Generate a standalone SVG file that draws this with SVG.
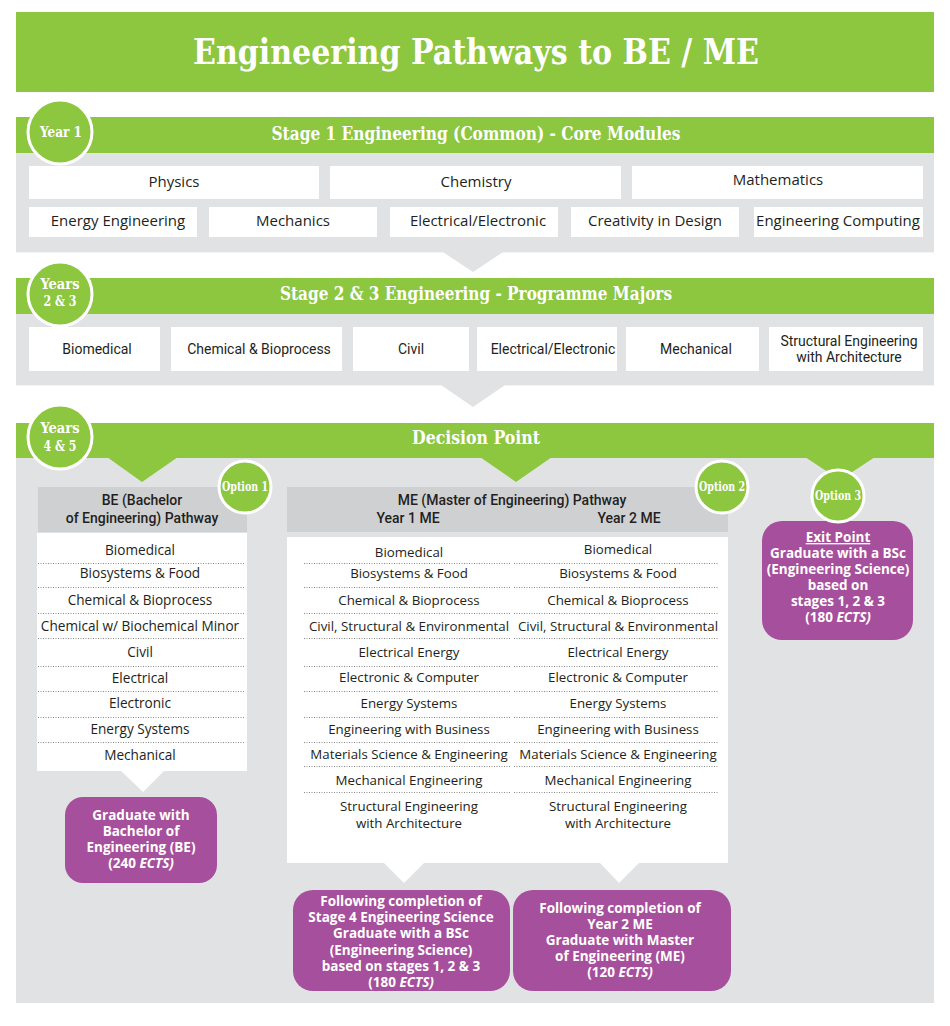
<svg xmlns="http://www.w3.org/2000/svg" width="950" height="1026" viewBox="0 0 950 1026">
<defs>
<style>
.bg{fill:#ffffff}
.green{fill:#8dc63f}
.panel{fill:#e1e2e3}
.box{fill:#ffffff}
.hdr{fill:#cfd0d2}
.purple{fill:#a64f9c}
.circ{fill:#8dc63f;stroke:#ffffff;stroke-width:3}
.slab{font-family:"DejaVu Serif Condensed","DejaVu Serif",serif;font-stretch:condensed;font-weight:bold;fill:#ffffff}
.os{font-family:"Open Sans","Liberation Sans",sans-serif;fill:#231f20;text-anchor:middle}
.rb{font-family:Roboto,"Liberation Sans",sans-serif;fill:#231f20;text-anchor:middle}
.pt{font-family:"Open Sans","Liberation Sans",sans-serif;font-weight:bold;fill:#ffffff;text-anchor:middle;font-size:13.5px}
.dot{stroke:#8a8a8a;stroke-width:1;stroke-dasharray:1 1.5;fill:none}
.mid{text-anchor:middle}
</style>
</defs>
<rect class="bg" x="0" y="0" width="950" height="1026"/>

<g id="title">
<rect class="green" x="16" y="12" width="918" height="80"/>
<text class="slab mid" x="476" y="64" font-size="36" textLength="566" lengthAdjust="spacingAndGlyphs">Engineering Pathways to BE / ME</text>
</g>

<g id="stage1">
<rect class="panel" x="16" y="153" width="918" height="99"/>
<line x1="16" y1="252.5" x2="934" y2="252.5" stroke="#f4f4f4" stroke-width="1"/>
<polygon class="panel" points="443,252 503,252 473,272"/>
<rect class="green" x="16" y="117" width="918" height="36"/>
<text class="slab mid" x="476" y="140" font-size="18" textLength="409" lengthAdjust="spacingAndGlyphs">Stage 1 Engineering (Common) - Core Modules</text>
<circle class="circ" cx="60" cy="132" r="32"/>
<text class="slab mid" x="61" y="137" font-size="14" textLength="42" lengthAdjust="spacingAndGlyphs">Year 1</text>
</g>

<g id="stage1-modules">
<rect class="box" x="29" y="166" width="290" height="33"/>
<text class="os" x="174" y="187" font-size="15">Physics</text>
<rect class="box" x="330" y="166" width="291" height="33"/>
<text class="os" x="476" y="187" font-size="15">Chemistry</text>
<rect class="box" x="632" y="166" width="291" height="33"/>
<text class="os" x="778" y="185" font-size="15">Mathematics</text>
<rect class="box" x="29" y="207" width="168" height="30"/>
<text class="os" x="118" y="226" font-size="15">Energy Engineering</text>
<rect class="box" x="209" y="207" width="168" height="30"/>
<text class="os" x="293" y="226" font-size="15">Mechanics</text>
<rect class="box" x="390" y="207" width="168" height="30"/>
<text class="os" x="478" y="226" font-size="15">Electrical/Electronic</text>
<rect class="box" x="571" y="207" width="168" height="30"/>
<text class="os" x="655" y="226" font-size="15">Creativity in Design</text>
<rect class="box" x="754" y="207" width="169" height="30"/>
<text class="os" x="838" y="226" font-size="15">Engineering Computing</text>
</g>

<g id="stage23">
<rect class="panel" x="16" y="314" width="918" height="71"/>
<line x1="16" y1="385.5" x2="934" y2="385.5" stroke="#f4f4f4" stroke-width="1"/>
<polygon class="panel" points="441,385 505,385 473,407"/>
<rect class="green" x="16" y="278" width="918" height="36"/>
<text class="slab mid" x="476" y="300" font-size="18" textLength="392" lengthAdjust="spacingAndGlyphs">Stage 2 &amp; 3 Engineering - Programme Majors</text>
<circle class="circ" cx="60" cy="294" r="32"/>
<text class="slab mid" x="60" y="289" font-size="14" textLength="39" lengthAdjust="spacingAndGlyphs">Years</text>
<text class="slab mid" x="60" y="306" font-size="14" textLength="33" lengthAdjust="spacingAndGlyphs">2 &amp; 3</text>
</g>

<g id="stage23-majors">
<rect class="box" x="29" y="327" width="131" height="44"/>
<text class="rb" x="97" y="354" font-size="14">Biomedical</text>
<rect class="box" x="171" y="327" width="171" height="44"/>
<text class="rb" x="259" y="354" font-size="14">Chemical &amp; Bioprocess</text>
<rect class="box" x="353" y="327" width="116" height="44"/>
<text class="rb" x="411" y="354" font-size="14">Civil</text>
<rect class="box" x="477" y="327" width="140" height="44"/>
<text class="rb" x="553" y="354" font-size="14">Electrical/Electronic</text>
<rect class="box" x="626" y="327" width="133" height="44"/>
<text class="rb" x="696" y="354" font-size="14">Mechanical</text>
<rect class="box" x="769" y="327" width="154" height="44"/>
<text class="rb" x="849" y="346" font-size="14">Structural Engineering</text>
<text class="rb" x="849" y="362" font-size="14">with Architecture</text>
</g>

<g id="decision">
<rect class="panel" x="16" y="458" width="918" height="545"/>
<rect class="green" x="16" y="423" width="918" height="35"/>
<polygon class="green" points="107,457 178,457 142,482"/>
<polygon class="green" points="480,457 552,457 516,482"/>
<polygon class="green" points="805,457 875,457 840,480"/>
<text class="slab mid" x="476" y="444" font-size="18" textLength="128" lengthAdjust="spacingAndGlyphs">Decision Point</text>
<circle class="circ" cx="60" cy="437" r="32"/>
<text class="slab mid" x="60" y="433" font-size="14" textLength="39" lengthAdjust="spacingAndGlyphs">Years</text>
<text class="slab mid" x="60" y="451" font-size="14" textLength="33" lengthAdjust="spacingAndGlyphs">4 &amp; 5</text>
</g>

<g id="be-pathway">
<rect class="hdr" x="38" y="487" width="209" height="45"/>
<text class="rb" x="142" y="505" font-size="14" font-weight="500">BE (Bachelor</text>
<text class="rb" x="142" y="523" font-size="14" font-weight="500">of Engineering) Pathway</text>
<rect class="box" x="37" y="533" width="210" height="238"/>
<polygon class="box" points="120,770 165,770 143,792"/>
<g class="os" font-size="13.6">
<text x="140" y="555">Biomedical</text>
<text x="140" y="578">Biosystems &amp; Food</text>
<text x="140" y="605">Chemical &amp; Bioprocess</text>
<text x="140" y="631">Chemical w/ Biochemical Minor</text>
<text x="140" y="657">Civil</text>
<text x="140" y="683">Electrical</text>
<text x="140" y="708">Electronic</text>
<text x="140" y="734">Energy Systems</text>
<text x="140" y="760">Mechanical</text>
</g>
<path class="dot" d="M38 563.5H244M38 587.5H244M38 613.5H244M38 638.5H244M38 666.5H244M38 691.5H244M38 717.5H244M38 742.5H244"/>
<circle class="circ" cx="245" cy="487" r="26"/>
<text class="slab mid" x="245" y="491" font-size="12" textLength="46" lengthAdjust="spacingAndGlyphs">Option 1</text>
</g>

<g id="be-graduate">
<rect class="purple" x="65" y="797" width="152" height="86" rx="18"/>
<text class="pt" x="141" y="820">Graduate with</text>
<text class="pt" x="141" y="836">Bachelor of</text>
<text class="pt" x="141" y="852">Engineering (BE)</text>
<text class="pt" x="141" y="868">(240 <tspan font-style="italic">ECTS)</tspan></text>
</g>

<g id="me-pathway">
<rect class="hdr" x="287" y="487" width="441" height="45"/>
<text class="rb" x="512" y="505" font-size="14" font-weight="500">ME (Master of Engineering) Pathway</text>
<text class="rb" x="408" y="523" font-size="14" font-weight="500">Year 1 ME</text>
<text class="rb" x="629" y="523" font-size="14" font-weight="500">Year 2 ME</text>
<rect class="box" x="287" y="537" width="441" height="326"/>
<polygon class="box" points="383,862 425,862 404,883"/>
<polygon class="box" points="599,862 640,862 619,883"/>
<g class="os" font-size="13.3">
<text x="409" y="557">Biomedical</text>
<text x="409" y="578">Biosystems &amp; Food</text>
<text x="409" y="605">Chemical &amp; Bioprocess</text>
<text x="409" y="631">Civil, Structural &amp; Environmental</text>
<text x="409" y="657">Electrical Energy</text>
<text x="409" y="682">Electronic &amp; Computer</text>
<text x="409" y="708">Energy Systems</text>
<text x="409" y="734">Engineering with Business</text>
<text x="409" y="759">Materials Science &amp; Engineering</text>
<text x="409" y="785">Mechanical Engineering</text>
<text x="409" y="811">Structural Engineering</text>
<text x="409" y="828">with Architecture</text>
<text x="618" y="554">Biomedical</text>
<text x="618" y="578">Biosystems &amp; Food</text>
<text x="618" y="605">Chemical &amp; Bioprocess</text>
<text x="618" y="631">Civil, Structural &amp; Environmental</text>
<text x="618" y="657">Electrical Energy</text>
<text x="618" y="682">Electronic &amp; Computer</text>
<text x="618" y="708">Energy Systems</text>
<text x="618" y="734">Engineering with Business</text>
<text x="618" y="759">Materials Science &amp; Engineering</text>
<text x="618" y="785">Mechanical Engineering</text>
<text x="618" y="811">Structural Engineering</text>
<text x="618" y="828">with Architecture</text>
</g>
<path class="dot" d="M304 563.5H510M304 587.5H510M304 613.5H510M304 638.5H510M304 666.5H510M304 691.5H510M304 717.5H510M304 742.5H510M304 766.5H510M304 792.5H510"/>
<path class="dot" d="M514 563.5H719M514 587.5H719M514 613.5H719M514 638.5H719M514 666.5H719M514 691.5H719M514 717.5H719M514 742.5H719M514 766.5H719M514 792.5H719"/>
<circle class="circ" cx="722" cy="487" r="26"/>
<text class="slab mid" x="722" y="491" font-size="12" textLength="46" lengthAdjust="spacingAndGlyphs">Option 2</text>
</g>

<g id="bsc-graduate">
<rect class="purple" x="293" y="890" width="217" height="101" rx="20"/>
<text class="pt" x="401" y="906">Following completion of</text>
<text class="pt" x="401" y="922">Stage 4 Engineering Science</text>
<text class="pt" x="401" y="938">Graduate with a BSc</text>
<text class="pt" x="401" y="955">(Engineering Science)</text>
<text class="pt" x="401" y="971">based on stages 1, 2 &amp; 3</text>
<text class="pt" x="401" y="987">(180 <tspan font-style="italic">ECTS)</tspan></text>
</g>

<g id="me-graduate">
<rect class="purple" x="513" y="890" width="218" height="101" rx="20"/>
<text class="pt" x="620" y="913">Following completion of</text>
<text class="pt" x="620" y="929">Year 2 ME</text>
<text class="pt" x="620" y="945">Graduate with Master</text>
<text class="pt" x="620" y="961">of Engineering (ME)</text>
<text class="pt" x="620" y="977">(120 <tspan font-style="italic">ECTS)</tspan></text>
</g>

<g id="exit-point">
<rect class="purple" x="762" y="521" width="151" height="119" rx="20"/>
<text class="pt" x="838" y="542" text-decoration="underline">Exit Point</text>
<text class="pt" x="838" y="558">Graduate with a BSc</text>
<text class="pt" x="838" y="574">(Engineering Science)</text>
<text class="pt" x="838" y="590">based on</text>
<text class="pt" x="838" y="606">stages 1, 2 &amp; 3</text>
<text class="pt" x="838" y="622">(180 <tspan font-style="italic">ECTS)</tspan></text>
<circle class="circ" cx="838" cy="496" r="26"/>
<text class="slab mid" x="838" y="500" font-size="12" textLength="46" lengthAdjust="spacingAndGlyphs">Option 3</text>
</g>

<g id="connectors"></g>
</svg>
